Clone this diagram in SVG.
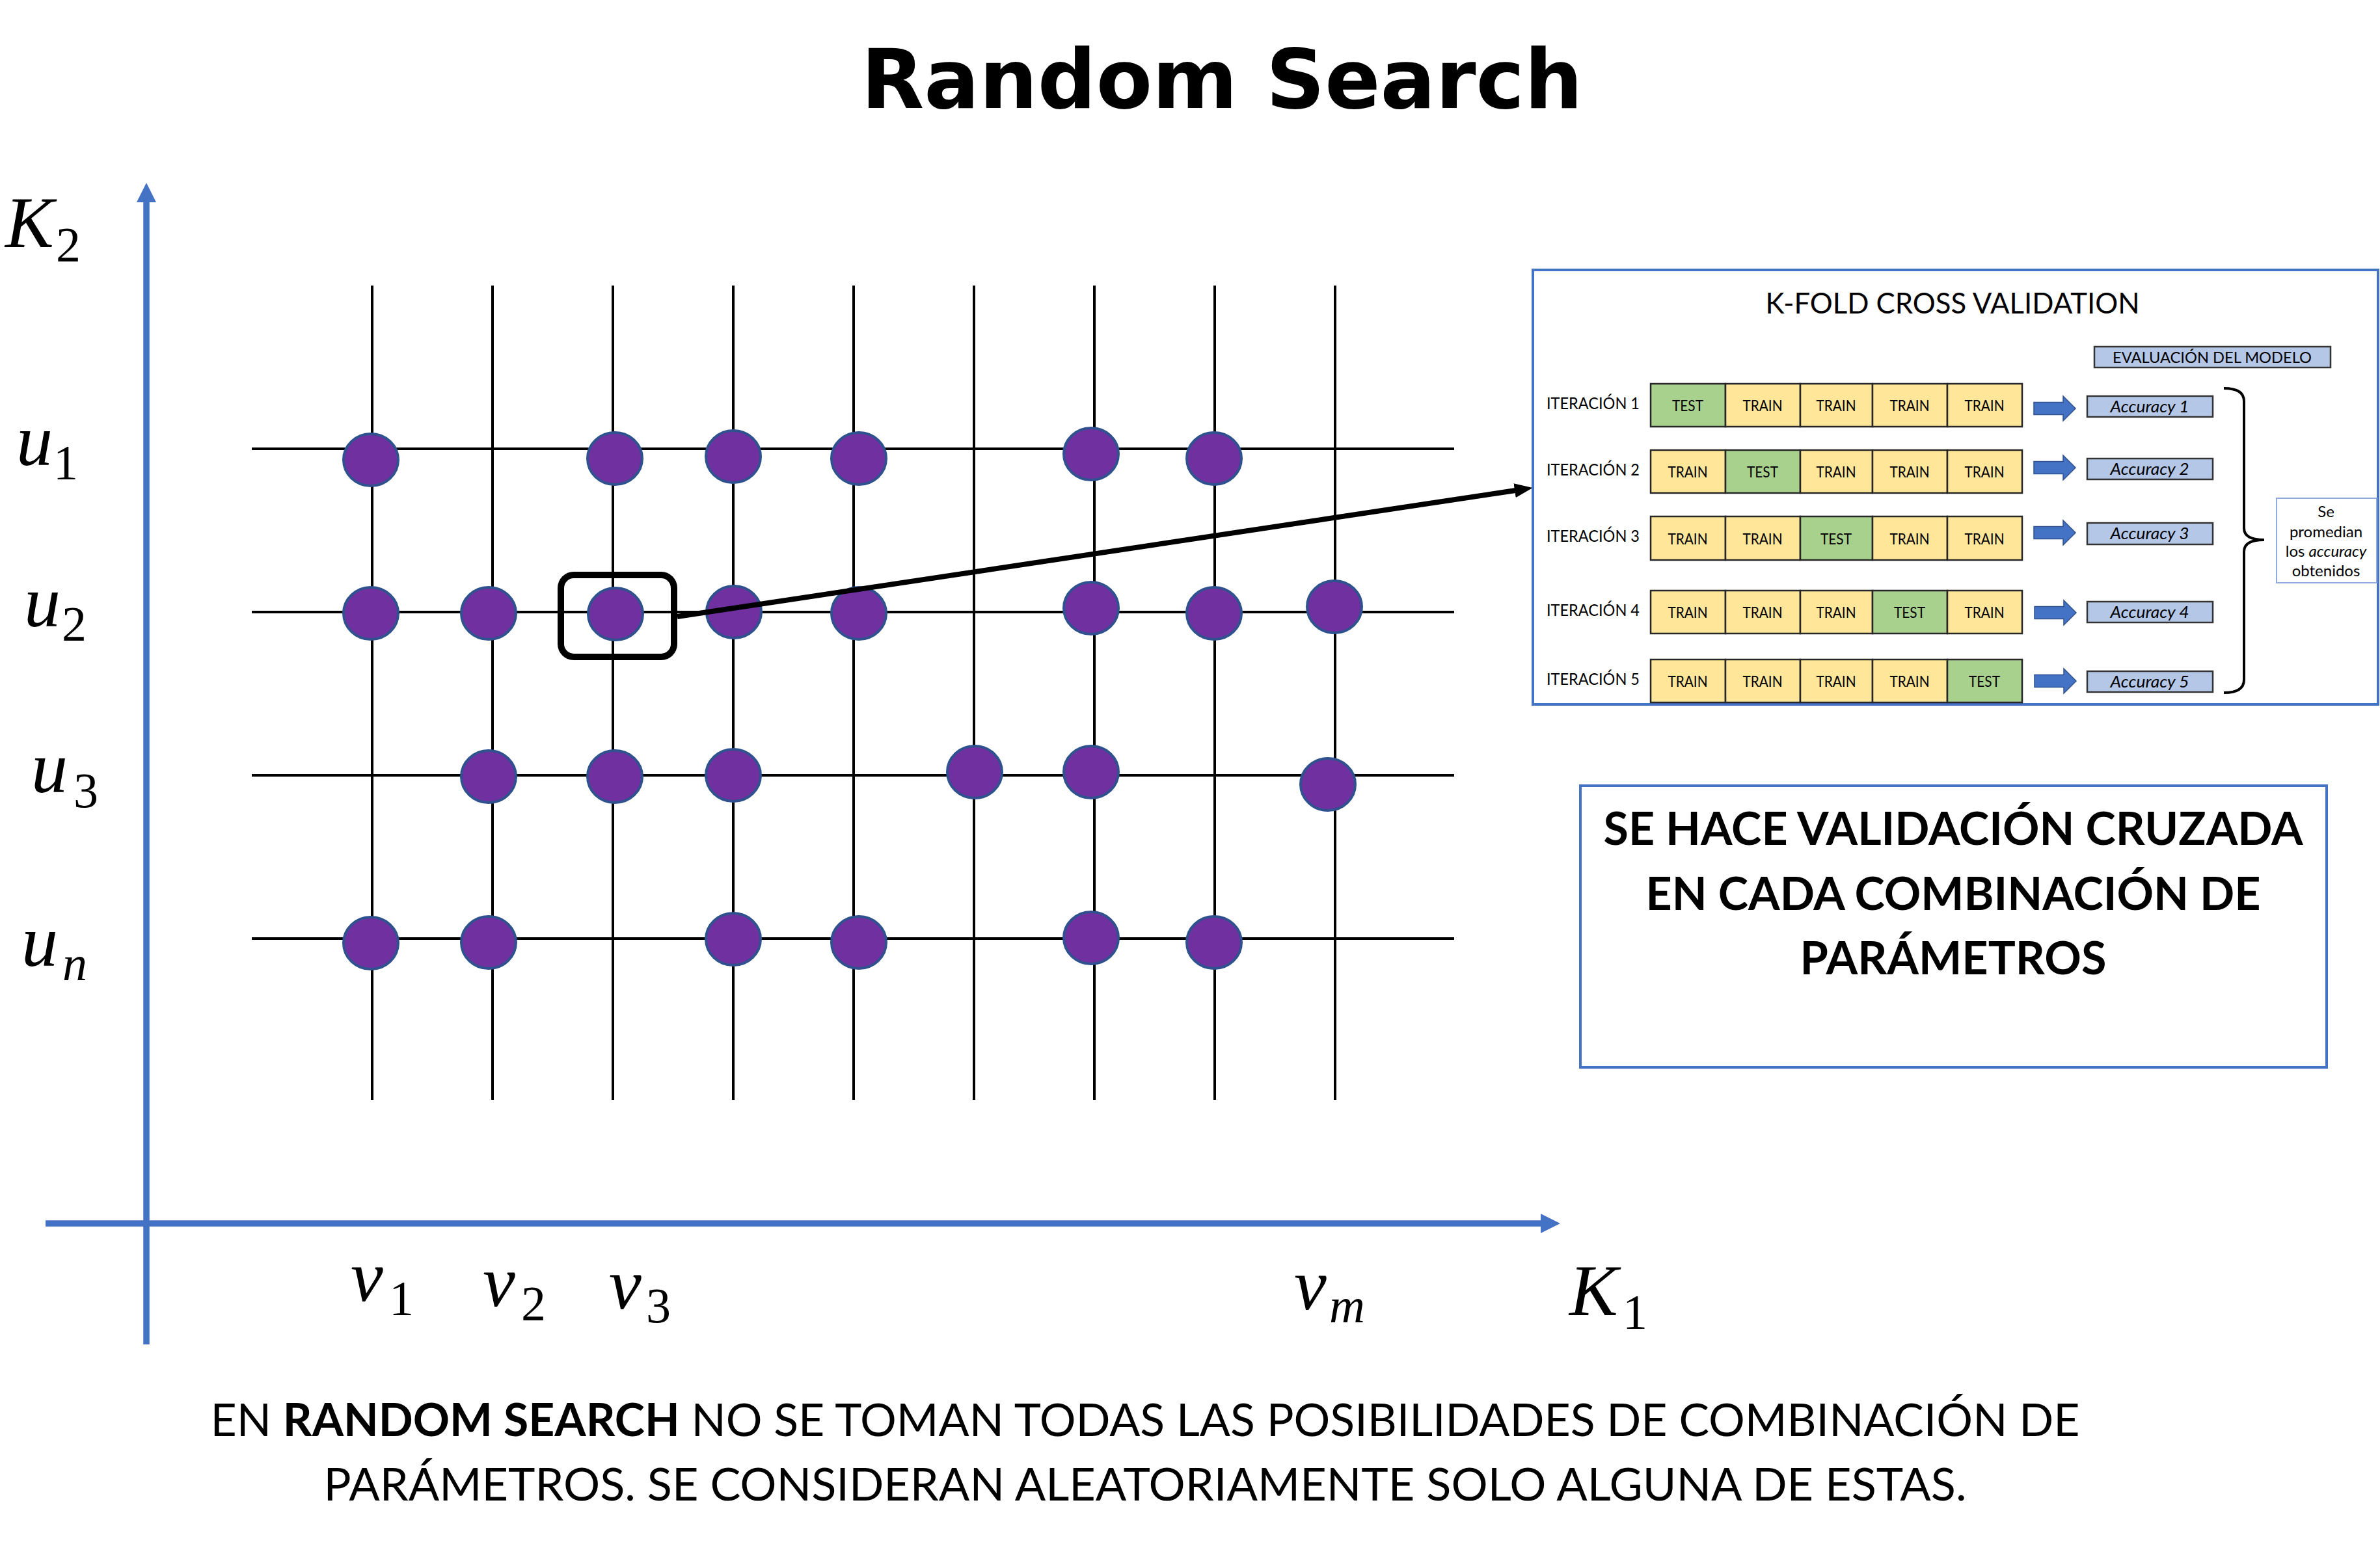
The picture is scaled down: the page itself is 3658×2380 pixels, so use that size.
<svg xmlns="http://www.w3.org/2000/svg" width="3658" height="2380" viewBox="0 0 3658 2380">
<style>
.grid{stroke:#000;stroke-width:4;fill:none}
.axis{stroke:#4472C4;stroke-width:9.5;fill:none}
.pt{fill:#7030A0;stroke:#2F528F;stroke-width:4}
.box{fill:#fff;stroke:#4472C4;stroke-width:4}
.cell{stroke:#262626;stroke-width:2.5}
.train{fill:#FFE699}
.test{fill:#A9D18E}
.acc{fill:#B4C7E7;stroke:#333;stroke-width:2.5}
.barrow{fill:#4472C4;stroke:#2F528F;stroke-width:1.5}
.sans{font-family:Lato,"Liberation Sans",sans-serif;fill:#000}
.ct{font-size:24px;text-anchor:middle}
.it{font-size:25px}
.at{font-size:25px;font-style:italic;text-anchor:middle}
.math{font-family:"Liberation Serif","DejaVu Serif",serif;font-style:italic;font-size:112px;fill:#000}
.sub{font-family:"Liberation Serif","DejaVu Serif",serif;font-size:76px;fill:#000}
.subi{font-family:"Liberation Serif","DejaVu Serif",serif;font-style:italic;font-size:76px;fill:#000}
</style>
<defs>
<marker id="axisHead" markerUnits="userSpaceOnUse" viewBox="0 0 30 30" markerWidth="30" markerHeight="30" refX="0" refY="15" orient="auto">
<path d="M0,0 L30,15 L0,30 z" fill="#4472C4"/>
</marker>
<marker id="blackHead" markerUnits="userSpaceOnUse" viewBox="0 0 28 22" markerWidth="28" markerHeight="22" refX="8" refY="11" orient="auto">
<path d="M0,0 L28,11 L0,22 z" fill="#000"/>
</marker>
<path id="blockArrow" class="barrow" d="M3126,-9.5 L3171,-9.5 L3171,-19 L3190,0 L3171,19 L3171,9.5 L3126,9.5 z"/>
</defs>
<rect width="3658" height="2380" fill="#fff"/>

<text x="1878" y="166" text-anchor="middle" font-family="DejaVu Sans,Verdana,sans-serif" font-weight="bold" font-size="127" textLength="1109" lengthAdjust="spacingAndGlyphs">Random Search</text>

<g id="grid">
<line class="grid" x1="387" y1="690" x2="2235" y2="690"/>
<line class="grid" x1="387" y1="941" x2="2235" y2="941"/>
<line class="grid" x1="387" y1="1192" x2="2235" y2="1192"/>
<line class="grid" x1="387" y1="1443" x2="2235" y2="1443"/>
<line class="grid" x1="572" y1="439" x2="572" y2="1691"/>
<line class="grid" x1="757" y1="439" x2="757" y2="1691"/>
<line class="grid" x1="942" y1="439" x2="942" y2="1691"/>
<line class="grid" x1="1127" y1="439" x2="1127" y2="1691"/>
<line class="grid" x1="1312" y1="439" x2="1312" y2="1691"/>
<line class="grid" x1="1497" y1="439" x2="1497" y2="1691"/>
<line class="grid" x1="1682" y1="439" x2="1682" y2="1691"/>
<line class="grid" x1="1867" y1="439" x2="1867" y2="1691"/>
<line class="grid" x1="2052" y1="439" x2="2052" y2="1691"/>
</g>

<g id="axes">
<line class="axis" x1="225" y1="2067" x2="225" y2="311" marker-end="url(#axisHead)"/>
<line class="axis" x1="70" y1="1881" x2="2368" y2="1881" marker-end="url(#axisHead)"/>
</g>

<g id="axis-labels">
<text class="math" x="8" y="380">K</text><text class="sub" x="86" y="402">2</text>
<text class="math" x="25" y="715">u</text><text class="sub" x="82" y="737">1</text>
<text class="math" x="37" y="963">u</text><text class="sub" x="95" y="985">2</text>
<text class="math" x="48" y="1218">u</text><text class="sub" x="113" y="1241">3</text>
<text class="math" x="33" y="1485">u</text><text class="subi" x="96" y="1507">n</text>
<text class="math" x="539" y="2000">v</text><text class="sub" x="598" y="2022">1</text>
<text class="math" x="742" y="2008">v</text><text class="sub" x="801" y="2030">2</text>
<text class="math" x="936" y="2012">v</text><text class="sub" x="993" y="2033">3</text>
<text class="math" x="1989" y="2013">v</text><text class="subi" x="2043" y="2033">m</text>
<text class="math" x="2412" y="2022">K</text><text class="sub" x="2494" y="2043">1</text>
</g>

<g id="points">
<ellipse id="p-v1-u1" class="pt" cx="570" cy="707" rx="42" ry="40"/>
<ellipse id="p-v3-u1" class="pt" cx="945" cy="705" rx="42" ry="40"/>
<ellipse id="p-v4-u1" class="pt" cx="1127" cy="702" rx="42" ry="40"/>
<ellipse id="p-v5-u1" class="pt" cx="1320" cy="705" rx="42" ry="40"/>
<ellipse id="p-v7-u1" class="pt" cx="1677" cy="698" rx="42" ry="40"/>
<ellipse id="p-v8-u1" class="pt" cx="1866" cy="705" rx="42" ry="40"/>
<ellipse id="p-v1-u2" class="pt" cx="570" cy="943" rx="42" ry="40"/>
<ellipse id="p-v2-u2" class="pt" cx="751" cy="943" rx="42" ry="40"/>
<ellipse id="p-v3-u2" class="pt" cx="946" cy="944" rx="42" ry="40"/>
<ellipse id="p-v4-u2" class="pt" cx="1128" cy="941" rx="42" ry="40"/>
<ellipse id="p-v5-u2" class="pt" cx="1320" cy="943" rx="42" ry="40"/>
<ellipse id="p-v7-u2" class="pt" cx="1677" cy="935" rx="42" ry="40"/>
<ellipse id="p-v8-u2" class="pt" cx="1866" cy="943" rx="42" ry="40"/>
<ellipse id="p-v9-u2" class="pt" cx="2051" cy="933" rx="42" ry="40"/>
<ellipse id="p-v2-u3" class="pt" cx="751" cy="1194" rx="42" ry="40"/>
<ellipse id="p-v3-u3" class="pt" cx="945" cy="1194" rx="42" ry="40"/>
<ellipse id="p-v4-u3" class="pt" cx="1127" cy="1192" rx="42" ry="40"/>
<ellipse id="p-v6-u3" class="pt" cx="1498" cy="1187" rx="42" ry="40"/>
<ellipse id="p-v7-u3" class="pt" cx="1677" cy="1187" rx="42" ry="40"/>
<ellipse id="p-v9-u3" class="pt" cx="2041" cy="1206" rx="42" ry="40"/>
<ellipse id="p-v1-un" class="pt" cx="570" cy="1450" rx="42" ry="40"/>
<ellipse id="p-v2-un" class="pt" cx="751" cy="1449" rx="42" ry="40"/>
<ellipse id="p-v4-un" class="pt" cx="1127" cy="1444" rx="42" ry="40"/>
<ellipse id="p-v5-un" class="pt" cx="1320" cy="1449" rx="42" ry="40"/>
<ellipse id="p-v7-un" class="pt" cx="1677" cy="1442" rx="42" ry="40"/>
<ellipse id="p-v8-un" class="pt" cx="1866" cy="1449" rx="42" ry="40"/>
</g>

<g id="highlight">
<rect x="862" y="884" width="174" height="126" rx="20" fill="none" stroke="#000" stroke-width="10"/>
</g>

<g id="connectors">
<line x1="1041" y1="948" x2="2336" y2="753" stroke="#000" stroke-width="8" marker-end="url(#blackHead)"/>
</g>

<g id="kfold">
<rect class="box" x="2356" y="415" width="1299" height="668"/>
<text class="sans" x="3001" y="482" font-size="45" text-anchor="middle" textLength="575" lengthAdjust="spacingAndGlyphs">K-FOLD CROSS VALIDATION</text>
<g id="eval-header">
<rect class="acc" x="3219" y="533" width="363" height="32"/>
<text class="sans" x="3400" y="558" font-size="24" text-anchor="middle" textLength="306" lengthAdjust="spacingAndGlyphs">EVALUACIÓN DEL MODELO</text>
</g>

<g id="iter1">
<text class="sans it" x="2377" y="629" textLength="143" lengthAdjust="spacingAndGlyphs">ITERACIÓN 1</text>
<rect class="cell test" x="2537" y="590" width="115" height="66"/>
<rect class="cell train" x="2652" y="590" width="115" height="66"/>
<rect class="cell train" x="2767" y="590" width="111" height="66"/>
<rect class="cell train" x="2878" y="590" width="115" height="66"/>
<rect class="cell train" x="2993" y="590" width="115" height="66"/>
<text class="sans ct" x="2594" y="632" textLength="48" lengthAdjust="spacingAndGlyphs">TEST</text>
<text class="sans ct" x="2709" y="632" textLength="61" lengthAdjust="spacingAndGlyphs">TRAIN</text>
<text class="sans ct" x="2822" y="632" textLength="61" lengthAdjust="spacingAndGlyphs">TRAIN</text>
<text class="sans ct" x="2935" y="632" textLength="61" lengthAdjust="spacingAndGlyphs">TRAIN</text>
<text class="sans ct" x="3050" y="632" textLength="61" lengthAdjust="spacingAndGlyphs">TRAIN</text>
<use href="#blockArrow" transform="translate(0,628)"/>
<rect class="acc" x="3208" y="609" width="193" height="32"/>
<text class="sans at" x="3304" y="634" textLength="121" lengthAdjust="spacingAndGlyphs">Accuracy 1</text>
</g>

<g id="iter2">
<text class="sans it" x="2377" y="731" textLength="143" lengthAdjust="spacingAndGlyphs">ITERACIÓN 2</text>
<rect class="cell train" x="2537" y="692" width="115" height="66"/>
<rect class="cell test" x="2652" y="692" width="115" height="66"/>
<rect class="cell train" x="2767" y="692" width="111" height="66"/>
<rect class="cell train" x="2878" y="692" width="115" height="66"/>
<rect class="cell train" x="2993" y="692" width="115" height="66"/>
<text class="sans ct" x="2594" y="734" textLength="61" lengthAdjust="spacingAndGlyphs">TRAIN</text>
<text class="sans ct" x="2709" y="734" textLength="48" lengthAdjust="spacingAndGlyphs">TEST</text>
<text class="sans ct" x="2822" y="734" textLength="61" lengthAdjust="spacingAndGlyphs">TRAIN</text>
<text class="sans ct" x="2935" y="734" textLength="61" lengthAdjust="spacingAndGlyphs">TRAIN</text>
<text class="sans ct" x="3050" y="734" textLength="61" lengthAdjust="spacingAndGlyphs">TRAIN</text>
<use href="#blockArrow" transform="translate(0,719)"/>
<rect class="acc" x="3208" y="705" width="193" height="32"/>
<text class="sans at" x="3304" y="730" textLength="121" lengthAdjust="spacingAndGlyphs">Accuracy 2</text>
</g>

<g id="iter3">
<text class="sans it" x="2377" y="833" textLength="143" lengthAdjust="spacingAndGlyphs">ITERACIÓN 3</text>
<rect class="cell train" x="2537" y="794" width="115" height="67"/>
<rect class="cell train" x="2652" y="794" width="115" height="67"/>
<rect class="cell test" x="2767" y="794" width="111" height="67"/>
<rect class="cell train" x="2878" y="794" width="115" height="67"/>
<rect class="cell train" x="2993" y="794" width="115" height="67"/>
<text class="sans ct" x="2594" y="837" textLength="61" lengthAdjust="spacingAndGlyphs">TRAIN</text>
<text class="sans ct" x="2709" y="837" textLength="61" lengthAdjust="spacingAndGlyphs">TRAIN</text>
<text class="sans ct" x="2822" y="837" textLength="48" lengthAdjust="spacingAndGlyphs">TEST</text>
<text class="sans ct" x="2935" y="837" textLength="61" lengthAdjust="spacingAndGlyphs">TRAIN</text>
<text class="sans ct" x="3050" y="837" textLength="61" lengthAdjust="spacingAndGlyphs">TRAIN</text>
<use href="#blockArrow" transform="translate(0,819)"/>
<rect class="acc" x="3208" y="804" width="193" height="33"/>
<text class="sans at" x="3304" y="829" textLength="121" lengthAdjust="spacingAndGlyphs">Accuracy 3</text>
</g>

<g id="iter4">
<text class="sans it" x="2377" y="947" textLength="143" lengthAdjust="spacingAndGlyphs">ITERACIÓN 4</text>
<rect class="cell train" x="2537" y="908" width="115" height="66"/>
<rect class="cell train" x="2652" y="908" width="115" height="66"/>
<rect class="cell train" x="2767" y="908" width="111" height="66"/>
<rect class="cell test" x="2878" y="908" width="115" height="66"/>
<rect class="cell train" x="2993" y="908" width="115" height="66"/>
<text class="sans ct" x="2594" y="950" textLength="61" lengthAdjust="spacingAndGlyphs">TRAIN</text>
<text class="sans ct" x="2709" y="950" textLength="61" lengthAdjust="spacingAndGlyphs">TRAIN</text>
<text class="sans ct" x="2822" y="950" textLength="61" lengthAdjust="spacingAndGlyphs">TRAIN</text>
<text class="sans ct" x="2935" y="950" textLength="48" lengthAdjust="spacingAndGlyphs">TEST</text>
<text class="sans ct" x="3050" y="950" textLength="61" lengthAdjust="spacingAndGlyphs">TRAIN</text>
<use href="#blockArrow" transform="translate(1,942)"/>
<rect class="acc" x="3208" y="925" width="193" height="32"/>
<text class="sans at" x="3304" y="950" textLength="121" lengthAdjust="spacingAndGlyphs">Accuracy 4</text>
</g>

<g id="iter5">
<text class="sans it" x="2377" y="1053" textLength="143" lengthAdjust="spacingAndGlyphs">ITERACIÓN 5</text>
<rect class="cell train" x="2537" y="1014" width="115" height="66"/>
<rect class="cell train" x="2652" y="1014" width="115" height="66"/>
<rect class="cell train" x="2767" y="1014" width="111" height="66"/>
<rect class="cell train" x="2878" y="1014" width="115" height="66"/>
<rect class="cell test" x="2993" y="1014" width="115" height="66"/>
<text class="sans ct" x="2594" y="1056" textLength="61" lengthAdjust="spacingAndGlyphs">TRAIN</text>
<text class="sans ct" x="2709" y="1056" textLength="61" lengthAdjust="spacingAndGlyphs">TRAIN</text>
<text class="sans ct" x="2822" y="1056" textLength="61" lengthAdjust="spacingAndGlyphs">TRAIN</text>
<text class="sans ct" x="2935" y="1056" textLength="61" lengthAdjust="spacingAndGlyphs">TRAIN</text>
<text class="sans ct" x="3050" y="1056" textLength="48" lengthAdjust="spacingAndGlyphs">TEST</text>
<use href="#blockArrow" transform="translate(1,1047)"/>
<rect class="acc" x="3208" y="1032" width="193" height="32"/>
<text class="sans at" x="3304" y="1057" textLength="121" lengthAdjust="spacingAndGlyphs">Accuracy 5</text>
</g>

<path id="brace" d="M3418,597 Q3449,597 3449,617 L3449,812 Q3449,830 3480,830 Q3449,830 3449,848 L3449,1045 Q3449,1065 3418,1065" fill="none" stroke="#000" stroke-width="4"/>

<g id="average-note">
<rect x="3499" y="766" width="154" height="130" fill="#fff" stroke="#8FAADC" stroke-width="2"/>
<text class="sans" font-size="24" text-anchor="middle"><tspan x="3575" y="795">Se</tspan><tspan x="3575" y="826">promedian</tspan><tspan x="3575" y="856">los <tspan font-style="italic">accuracy</tspan></tspan><tspan x="3575" y="886">obtenidos</tspan></text>
</g>
</g>

<g id="cv-note">
<rect class="box" x="2429" y="1208" width="1147" height="433"/>
<text class="sans" font-weight="bold" font-size="71" text-anchor="middle" x="3002" y="1299" textLength="1075" lengthAdjust="spacingAndGlyphs">SE HACE VALIDACIÓN CRUZADA</text>
<text class="sans" font-weight="bold" font-size="71" text-anchor="middle" x="3002" y="1399" textLength="945" lengthAdjust="spacingAndGlyphs">EN CADA COMBINACIÓN DE</text>
<text class="sans" font-weight="bold" font-size="71" text-anchor="middle" x="3002" y="1498" textLength="471" lengthAdjust="spacingAndGlyphs">PARÁMETROS</text>
</g>

<g id="caption">
<text class="sans" font-size="70" text-anchor="middle" x="1760" y="2208" textLength="2873" lengthAdjust="spacingAndGlyphs">EN <tspan font-weight="bold">RANDOM SEARCH</tspan> NO SE TOMAN TODAS LAS POSIBILIDADES DE COMBINACIÓN DE</text>
<text class="sans" font-size="70" text-anchor="middle" x="1760" y="2307" textLength="2525" lengthAdjust="spacingAndGlyphs">PARÁMETROS. SE CONSIDERAN ALEATORIAMENTE SOLO ALGUNA DE ESTAS.</text>
</g>
</svg>
